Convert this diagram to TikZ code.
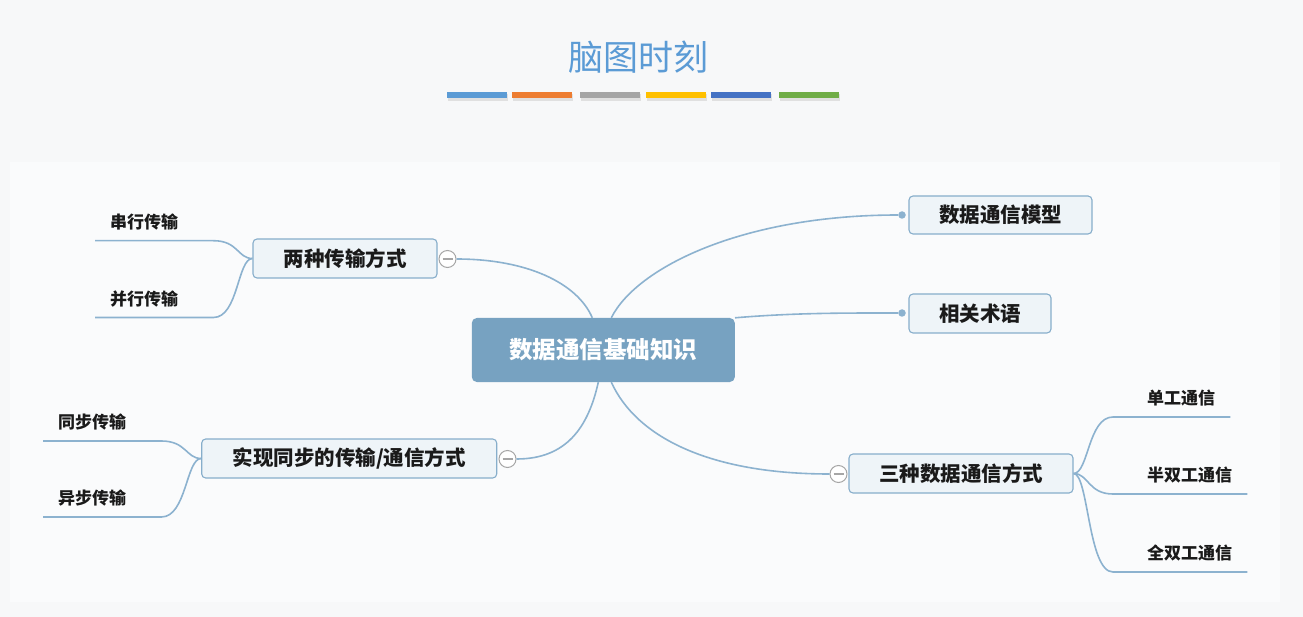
\documentclass[tikz,border=0pt]{standalone}
\usepackage{fontspec}
\setmainfont{Noto Sans CJK SC}
\definecolor{pagebg}{HTML}{F7F8F9}
\definecolor{panelbg}{HTML}{FAFBFC}
\definecolor{titleblue}{HTML}{5B9BD5}
\definecolor{barA}{HTML}{5B9BD5}
\definecolor{barB}{HTML}{ED7D31}
\definecolor{barC}{HTML}{A5A5A5}
\definecolor{barD}{HTML}{FFC000}
\definecolor{barE}{HTML}{4472C4}
\definecolor{barF}{HTML}{70AD47}
\definecolor{rootfill}{HTML}{77A2C1}
\definecolor{boxfill}{HTML}{EEF4F8}
\definecolor{boxline}{HTML}{87AECB}
\definecolor{linkcol}{HTML}{8CB2CF}
\definecolor{txt}{HTML}{1A1A1A}

\begin{document}
\begin{tikzpicture}[x=1pt,y=-1pt,
  topic/.style={draw=boxline,fill=boxfill,rounded corners=4pt,line width=1.1pt,minimum height=39pt,inner sep=0pt,font=\bfseries\fontsize{20.5}{24}\selectfont,text=txt},
  lleaf/.style={anchor=south west,inner xsep=15pt,inner ysep=9pt,text height=12pt,text depth=3pt,font=\bfseries\fontsize{17}{20}\selectfont,text=txt},
  fold/.style={circle,draw=gray!70,fill=white,line width=1pt,minimum size=17pt,inner sep=0pt},
  dot/.style={circle,fill=linkcol,minimum size=7.5pt,inner sep=0pt},
  link/.style={draw=linkcol,line width=1.6pt}]
\useasboundingbox (0,0) rectangle (1303,617);
\fill[pagebg] (0,0) rectangle (1303,617);
\fill[panelbg] (10,162) rectangle (1280,602);

\node[font=\fontsize{35}{40}\selectfont,text=titleblue] (title) at (638.5,57) {脑图时刻};
\foreach \x/\c in {447/barA,512/barB,580/barC,646/barD,711/barE,779/barF}{
  \fill[black!12] (\x+1,94) rectangle ++(60,7);
  \fill[\c] (\x,92) rectangle ++(60,6.5);
}

\node[fill=rootfill,rounded corners=5pt,minimum width=263pt,minimum height=64pt,inner sep=0pt,text=white,font=\bfseries\fontsize{23.5}{28}\selectfont] (root) at (603.3,350) {数据通信基础知识};

\node[topic,minimum width=184pt] (two) at (345,258.5) {两种传输方式};
\node[topic,minimum width=295pt] (sync) at (349.2,458.5) {实现同步的传输/通信方式};
\node[topic,minimum width=183pt,minimum height=38pt] (model) at (1000.5,215) {数据通信模型};
\node[topic,minimum width=142pt] (term) at (980,313.5) {相关术语};
\node[topic,minimum width=224pt] (three) at (961,473.5) {三种数据通信方式};

\node[fold] (f1) at (447.5,259) {};
\node[fold] (f2) at (507.5,459) {};
\node[fold] (f3) at (838.5,474) {};
\foreach \f in {f1,f2,f3}
  \draw[gray!70,line width=1.1pt] ([xshift=-5pt]\f.center) -- ([xshift=5pt]\f.center);
\node[dot] (d1) at (902,215) {};
\node[dot] (d2) at (902,313) {};

\node[lleaf] (serial) at (95,240.7) {串行传输};
\node[lleaf] (parallel) at (95,317.5) {并行传输};
\node[lleaf] (syncleaf) at (43,441) {同步传输};
\node[lleaf] (async) at (43,517) {异步传输};
\node[lleaf] (simplex) at (1132,417) {单工通信};
\node[lleaf] (half) at (1132,494) {半双工通信};
\node[lleaf] (full) at (1132,572) {全双工通信};

\draw[link] ([xshift=-11pt]root.north) .. controls +(-15,-35) and +(70,0) .. (f1.east);
\draw[link] ([xshift=8pt]root.north) .. controls +(25,-50) and +(-160,0) .. (d1);
\draw[link] (root.north east) .. controls +(60,-5) and +(-60,0) .. (d2);
\draw[link] ([xshift=-5pt]root.south) .. controls +(-10,45) and +(50,0) .. (f2.east);
\draw[link] ([xshift=8pt]root.south) .. controls +(25,55) and +(-120,0) .. (f3.west);

\draw[link] (two.west) .. controls +(-15,0) and +(25,0) .. ([xshift=20pt]serial.south east) -- (serial.south west);
\draw[link] (two.west) .. controls +(-15,0) and +(25,0) .. ([xshift=20pt]parallel.south east) -- (parallel.south west);
\draw[link] (sync.west) .. controls +(-15,0) and +(25,0) .. ([xshift=20pt]syncleaf.south east) -- (syncleaf.south west);
\draw[link] (sync.west) .. controls +(-15,0) and +(25,0) .. ([xshift=20pt]async.south east) -- (async.south west);
\draw[link] (three.east) .. controls +(15,0) and +(-25,0) .. ([xshift=-19pt]simplex.south west) -- (simplex.south east);
\draw[link] (three.east) .. controls +(15,0) and +(-25,0) .. ([xshift=-19pt]half.south west) -- (half.south east);
\draw[link] (three.east) .. controls +(15,0) and +(-25,0) .. ([xshift=-19pt]full.south west) -- (full.south east);
\end{tikzpicture}
\end{document}
